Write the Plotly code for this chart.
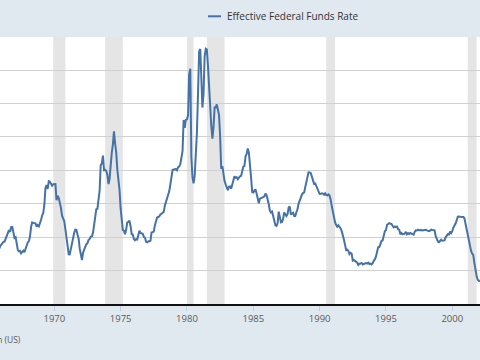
import pandas as pd
import plotly.graph_objects as go

# Effective Federal Funds Rate, monthly (percent), Jan 1965 - Dec 2002
series_name = "Effective Federal Funds Rate"
first_month = "1965-01-01"
rate = [
    3.90, 3.98, 4.04, 4.09, 4.10, 4.04, 4.09, 4.12, 4.01, 4.08, 4.10, 4.32,  # 1965
    4.42, 4.60, 4.65, 4.67, 4.90, 5.17, 5.30, 5.53, 5.40, 5.76, 5.76, 5.40,  # 1966
    4.94, 5.00, 4.53, 4.05, 3.94, 3.98, 3.79, 3.90, 3.99, 3.88, 4.13, 4.51,  # 1967
    4.61, 4.71, 5.05, 5.76, 6.11, 6.07, 6.02, 6.03, 5.78, 5.91, 5.82, 6.02,  # 1968
    6.30, 6.64, 6.79, 7.41, 8.67, 8.90, 8.61, 9.19, 9.15, 9.00, 8.85, 8.97,  # 1969
    8.98, 8.98, 7.76, 8.10, 7.95, 7.61, 7.21, 6.61, 6.29, 6.20, 5.60, 4.90,  # 1970
    4.14, 3.72, 3.71, 4.15, 4.63, 4.91, 5.31, 5.56, 5.55, 5.20, 4.91, 4.14,  # 1971
    3.50, 3.29, 3.83, 4.17, 4.27, 4.46, 4.55, 4.80, 4.87, 5.04, 5.06, 5.33,  # 1972
    5.94, 6.58, 7.09, 7.12, 7.84, 8.49, 10.40, 10.50, 11.10, 10.01, 10.03, 9.95,  # 1973
    9.65, 8.97, 9.35, 10.51, 11.31, 11.93, 12.92, 12.01, 11.34, 10.06, 9.45, 8.53,  # 1974
    7.13, 6.24, 5.54, 5.49, 5.22, 5.55, 6.10, 6.14, 6.24, 5.82, 5.22, 5.20,  # 1975
    4.87, 4.77, 4.84, 4.82, 5.29, 5.48, 5.31, 5.29, 5.25, 5.02, 4.95, 4.65,  # 1976
    4.61, 4.68, 4.69, 4.73, 5.35, 5.39, 5.42, 5.90, 6.14, 6.47, 6.51, 6.56,  # 1977
    6.70, 6.78, 6.79, 6.89, 7.36, 7.60, 7.81, 8.04, 8.45, 8.96, 9.76, 10.03,  # 1978
    10.07, 10.06, 10.09, 10.01, 10.24, 10.29, 10.47, 10.94, 11.43, 13.77, 13.18, 13.78,  # 1979
    13.82, 14.13, 17.19, 17.61, 10.98, 9.47, 9.03, 9.61, 10.87, 12.81, 15.85, 18.90,  # 1980
    19.08, 15.93, 14.70, 15.72, 18.52, 19.10, 19.04, 17.82, 15.87, 15.08, 13.31, 12.37,  # 1981
    13.22, 14.78, 14.68, 14.94, 14.45, 14.15, 12.59, 10.12, 10.31, 9.71, 9.20, 8.95,  # 1982
    8.68, 8.51, 8.77, 8.80, 8.63, 8.98, 9.37, 9.56, 9.45, 9.48, 9.34, 9.47,  # 1983
    9.56, 9.59, 9.91, 10.29, 10.32, 11.06, 11.23, 11.64, 11.30, 9.99, 9.43, 8.38,  # 1984
    8.35, 8.50, 8.58, 8.27, 7.97, 7.53, 7.88, 7.90, 7.92, 7.99, 8.05, 8.27,  # 1985
    8.14, 7.86, 7.48, 6.99, 6.85, 6.92, 6.56, 6.17, 5.89, 5.85, 6.04, 6.91,  # 1986
    6.43, 6.10, 6.13, 6.37, 6.85, 6.73, 6.58, 6.73, 7.22, 7.29, 6.69, 6.77,  # 1987
    6.83, 6.58, 6.58, 6.87, 7.09, 7.51, 7.75, 8.01, 8.19, 8.30, 8.35, 8.76,  # 1988
    9.12, 9.36, 9.85, 9.84, 9.81, 9.53, 9.24, 8.99, 9.02, 8.84, 8.55, 8.45,  # 1989
    8.23, 8.24, 8.28, 8.26, 8.18, 8.29, 8.15, 8.13, 8.20, 8.11, 7.81, 7.31,  # 1990
    6.91, 6.25, 6.12, 5.91, 5.78, 5.90, 5.82, 5.66, 5.45, 5.21, 4.81, 4.43,  # 1991
    4.03, 4.06, 3.98, 3.73, 3.82, 3.76, 3.25, 3.30, 3.22, 3.10, 3.09, 2.92,  # 1992
    3.02, 3.03, 3.07, 2.96, 3.00, 3.04, 3.06, 3.03, 3.09, 2.99, 3.02, 2.96,  # 1993
    3.05, 3.25, 3.34, 3.56, 4.01, 4.25, 4.26, 4.47, 4.73, 4.76, 5.29, 5.45,  # 1994
    5.53, 5.92, 5.98, 6.05, 6.01, 6.00, 5.85, 5.74, 5.80, 5.76, 5.80, 5.60,  # 1995
    5.56, 5.22, 5.31, 5.22, 5.24, 5.27, 5.40, 5.22, 5.30, 5.24, 5.31, 5.29,  # 1996
    5.25, 5.19, 5.39, 5.51, 5.50, 5.56, 5.52, 5.54, 5.54, 5.50, 5.52, 5.50,  # 1997
    5.56, 5.51, 5.49, 5.45, 5.49, 5.56, 5.54, 5.55, 5.51, 5.07, 4.83, 4.68,  # 1998
    4.63, 4.76, 4.81, 4.74, 4.74, 4.76, 4.99, 5.07, 5.22, 5.20, 5.42, 5.30,  # 1999
    5.45, 5.73, 5.85, 6.02, 6.27, 6.53, 6.54, 6.50, 6.52, 6.51, 6.51, 6.40,  # 2000
    5.98, 5.49, 5.31, 4.80, 4.21, 3.97, 3.77, 3.65, 3.07, 2.49, 2.09, 1.82,  # 2001
    1.73, 1.74, 1.73, 1.75, 1.75, 1.75, 1.73, 1.74, 1.75, 1.75, 1.34, 1.24,  # 2002
]
dates = pd.date_range(first_month, periods=len(rate), freq="MS")

# Recession periods (shaded)
recession_start = ["1969-12-01", "1973-11-01", "1980-01-01", "1981-07-01", "1990-07-01", "2001-03-01"]
recession_end = ["1970-11-01", "1975-03-01", "1980-07-01", "1982-11-01", "1991-03-01", "2001-11-01"]

source_text = "Source: Board of Governors of the Federal Reserve System (US)"

fig = go.Figure()
fig.add_trace(go.Scatter(
    x=dates, y=rate, mode="lines", name=series_name,
    line=dict(color="#4572a7", width=2), showlegend=False,
))

for s, e in zip(recession_start, recession_end):
    fig.add_shape(type="rect", xref="x", yref="paper", x0=s, x1=e, y0=0, y1=1,
                  fillcolor="#e5e5e5", line=dict(width=0), layer="below")

# legend (drawn manually to match short line sample)
fig.add_shape(type="line", xref="paper", yref="paper",
              x0=208/480, x1=221/480, y0=(304-16.3)/267, y1=(304-16.3)/267,
              line=dict(color="#4572a7", width=2))
fig.add_annotation(text=series_name, xref="paper", yref="paper",
                   x=225/480, y=(304-16.3)/267, xanchor="left", yanchor="middle",
                   showarrow=False, font=dict(family="Open Sans", size=10, color="#333333"))
fig.add_annotation(text=source_text, xref="paper", yref="paper",
                   x=23/480, y=(304-339)/267, xanchor="right", yanchor="middle",
                   showarrow=False, font=dict(family="Open Sans", size=8.5, color="#595959"))

fig.update_layout(
    width=480, height=360,
    margin=dict(l=0, r=0, t=37, b=56),
    paper_bgcolor="#e1e9f0", plot_bgcolor="#ffffff",
    font=dict(family="Open Sans", color="#595959"),
)
fig.update_xaxes(
    range=["1965-11-27", "2002-02-02"], type="date",
    tick0="1970-01-01", dtick="M60", tickformat="%Y",
    ticks="outside", ticklen=5, tickcolor="#c0cfdc", tickwidth=1,
    showgrid=False, showline=True, linecolor="#111111", linewidth=2,
    tickfont=dict(family="Open Sans", size=9.5, color="#595959"),
)
fig.update_yaxes(
    range=[0, 19.98], dtick=2.5, showticklabels=False, zeroline=False,
    showgrid=True, gridcolor="#d0d0d0", gridwidth=1, showline=False,
)

fig.write_html("out.html", config={"displayModeBar": False},
               post_script="document.body.style.margin='0';")
